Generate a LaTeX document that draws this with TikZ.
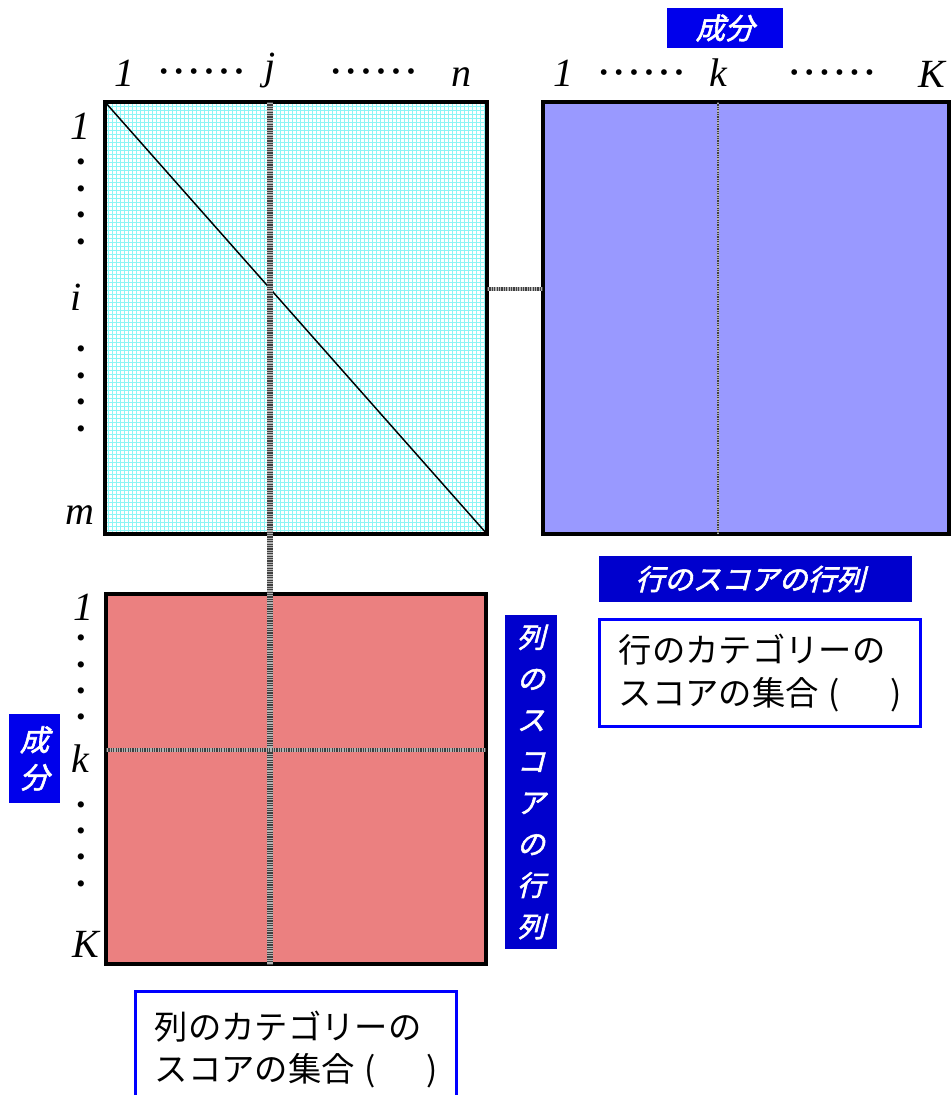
\documentclass[tikz,border=0pt]{standalone}
\usepackage{fontspec}
\setmainfont{Liberation Serif}
\newfontfamily\jpfont{Noto Sans CJK JP}
\newfontfamily\jpitfont[FakeSlant=0.25,FakeBold=2]{Noto Sans CJK JP}
\usetikzlibrary{positioning}

\definecolor{gridcyan}{RGB}{140,245,245}
\definecolor{rowblue}{RGB}{153,153,255}
\definecolor{colred}{RGB}{235,128,128}
\definecolor{tagblue}{RGB}{0,0,235}
\definecolor{tagdark}{RGB}{0,0,205}

% six dots between the indices
\newcommand{\dotrow}{\textbullet\hskip5pt\textbullet\hskip5pt\textbullet\hskip5pt\textbullet\hskip5pt\textbullet\hskip5pt\textbullet}

\tikzset{
  mat/.style={draw=black, line width=3pt, anchor=north west, inner sep=0pt, outer sep=0pt},
  idx/.style={font=\itshape\fontsize{30}{30}\selectfont, anchor=base, inner sep=0pt},
  hdots/.style={font=\fontsize{18}{18}\selectfont, inner sep=0pt},
  vdot/.style={font=\fontsize{19.5}{19.5}\selectfont, inner sep=0pt},
  tag/.style={fill=tagblue, text=white, inner sep=0pt, align=center,
    font=\jpitfont\fontsize{22}{28}\selectfont},
  setbox/.style={draw=blue, line width=2.5pt, fill=white, anchor=north west,
    inner sep=0pt, align=left, minimum width=240.75pt,
    font=\jpfont\fontsize{25}{32}\selectfont},
  scoreline/.style={draw=gray!60, line width=4pt,
    postaction={draw=black!75, dash pattern=on 0.9pt off 0.9pt}},
  thinscore/.style={scoreline, line width=2.4pt}
}

\begin{document}
\begin{tikzpicture}[x=0.75pt, y=-0.75pt]
\useasboundingbox (0,0) rectangle (951,1095);

% the three matrices
\node[mat, minimum width=286.5pt, minimum height=324pt,
  path picture={\draw[gridcyan, line width=0.45pt, step=3pt]
    (path picture bounding box.south west) grid (path picture bounding box.north east);}]
  (X) at (105,102) {};
\node[mat, fill=rowblue, minimum width=304.5pt, minimum height=324pt] (F) at (543,102) {};
\node[mat, fill=colred, minimum width=285pt, minimum height=277.5pt] (G) at (106,594) {};

% column indices of X
\node[idx] (c1) at (124,87) {1};
\node[hdots] (cd1) at (201.5,74) {\dotrow};
\node[idx] (cj) at (270,80) {j};
\node[hdots] (cd2) at (373.5,74) {\dotrow};
\node[idx] (cn) at (461,87) {n};

% component indices of F
\node[idx] (f1) at (563,87) {1};
\node[hdots] (fd1) at (641.5,75) {\dotrow};
\node[idx] (fk) at (718,87) {k};
\node[hdots] (fd2) at (832,75) {\dotrow};
\node[idx] (fK) at (932,88) {K};
\node[tag, minimum width=87pt, minimum height=30pt] (ftag) at (725,28) {成分};

% row indices of X
\node[idx] (r1) at (80,140) {1};
\foreach \y [count=\n] in {165,192,218,245,352,379,405,432}
  \node[vdot] (rd\n) at (81,\y) {\textbullet};
\node[idx] (ri) at (76,310) {i};
\node[idx] (rm) at (80,524) {m};

% component indices of G
\node[idx] (g1) at (83,620) {1};
\foreach \y [count=\n] in {641,668,694,720,808,834,860,887}
  \node[vdot] (gd\n) at (81,\y) {\textbullet};
\node[idx] (gk) at (80,772) {k};
\node[idx] (gK) at (86,957) {K};
\node[tag, minimum width=38pt, minimum height=67pt] (gtag) at (34.5,758.5) {成\\分};

% score lines
\coordinate (ij) at (270,289);
\coordinate (kk) at (270,750);
\draw[line width=1.1pt] (X.north west) -- (X.south east);
\draw[scoreline] (X.north -| cj) -- (G.south -| cj);
\draw[thinscore] (X.east |- ij) -- (F.west |- ij);
\draw[thinscore, line width=1.6pt] (F.north -| fk) -- (F.south -| fk);
\draw[thinscore] (G.west |- kk) -- (G.east |- kk);

% names of the score matrices
\node[tag, fill=tagdark, minimum width=235pt, minimum height=34.5pt,
  font=\jpitfont\fontsize{21.5}{21.5}\selectfont] (ftitle) at (755.5,579)
  {行のスコアの行列\hspace{8pt}};
\node[tag, fill=tagdark, minimum width=39pt, minimum height=250.5pt,
  font=\jpitfont\fontsize{21}{31}\selectfont] (gtitle) at (531,782)
  {列\\の\\ス\\コ\\ア\\の\\行\\列};

% category score sets
\node[setbox, minimum height=80.25pt] (fset) at (598,618)
  {行のカテゴリーの\\スコアの集合\hspace{0.3em}(\hspace{1.5em})};
\node[setbox, minimum height=87pt] (gset) at (134,990)
  {列のカテゴリーの\\スコアの集合\hspace{0.3em}(\hspace{1.5em})};
\end{tikzpicture}
\end{document}
